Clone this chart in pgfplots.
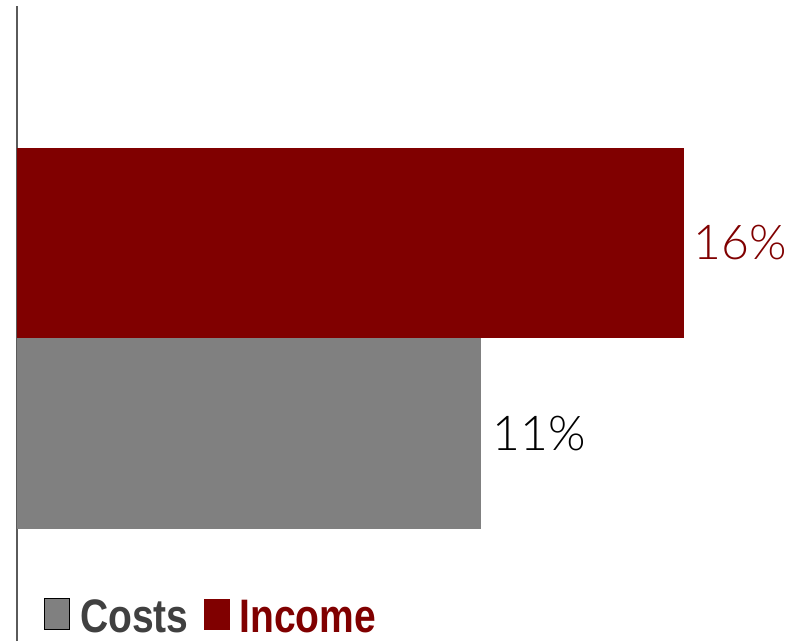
\documentclass[border=0pt]{standalone}
\usepackage{pgfplots}
\pgfplotsset{compat=1.18}
\usepackage{fontspec}
\setmainfont{Liberation Sans}
\newfontfamily\lightfont{Lato Light}
\newfontfamily\narrowbold{Liberation Sans}[FakeStretch=0.83,BoldFont={Liberation Sans Bold}]
\definecolor{darkred}{HTML}{800000}
\definecolor{midgray}{HTML}{808080}
\definecolor{txtgray}{HTML}{404040}
\begin{document}
\begin{tikzpicture}
\path[use as bounding box] (0,0) rectangle (805pt,641pt);
\begin{axis}[
  at={(17pt,0pt)}, anchor=south west,
  scale only axis, width=788pt, height=635pt,
  xmin=0, xmax=18.67, ymin=-0.089, ymax=3.244,
  hide x axis,
  axis y line*=left,
  y axis line style={draw=midgray!70!black, line width=1.3pt},
  ytick=\empty, xtick=\empty,
  clip=false,
  point meta=x,
  nodes near coords={\pgfmathprintnumber[fixed,precision=0,assume math mode=true]{\pgfplotspointmeta}\%},
  legend columns=2,
  legend style={at={(axis description cs:0,0)}, anchor=south west, xshift=27pt, yshift=5pt,
    draw=none, fill=none, inner sep=0pt, row sep=0pt,
    font=\narrowbold\bfseries\fontsize{47}{50}\selectfont,
    /tikz/every odd column/.style={column sep=8pt},
    /tikz/every even column/.style={column sep=13pt}},
  legend cell align=left,
]
\addplot[xbar, bar width=1, bar shift=0pt, fill=midgray, draw=none,
  nodes near coords style={anchor=west, xshift=8pt, text=black, font=\lightfont\fontsize{48}{50}\selectfont},
  legend image code/.code={\draw[fill=midgray, draw=black, line width=1pt] (0pt,-13pt) rectangle (25pt,18pt);}]
  coordinates {(11.0,1)};
\addlegendentry{\textcolor{txtgray}{Costs}}
\addplot[xbar, bar width=1, bar shift=0pt, fill=darkred, draw=none,
  nodes near coords style={anchor=west, xshift=6pt, text=darkred, font=\lightfont\fontsize{48}{50}\selectfont},
  legend image code/.code={\fill[darkred] (0pt,-13pt) rectangle (26pt,18pt);}]
  coordinates {(15.8,2)};
\addlegendentry{\textcolor{darkred}{Income}}
\end{axis}
\end{tikzpicture}
\end{document}
